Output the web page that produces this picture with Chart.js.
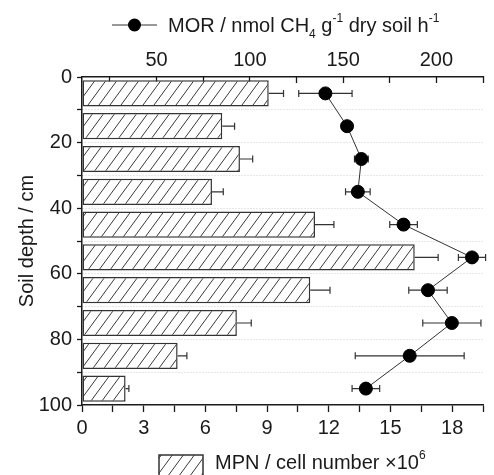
<!DOCTYPE html>
<html>
<head>
<meta charset="utf-8">
<script src="https://cdn.jsdelivr.net/npm/chart.js@4.4.1/dist/chart.umd.min.js"></script>
<style>
  html, body { margin: 0; padding: 0; background: #fff; }
</style>
</head>
<body>
<canvas id="depthChart" width="494" height="475"></canvas>
<script>
// depth of each layer midpoint (cm)
const depths = [5, 15, 25, 35, 45, 55, 65, 75, 85, 95];
// MPN, cell number x10^6 (bars, bottom axis)
const mpn = [9.08, 6.82, 7.68, 6.32, 11.33, 16.18, 11.10, 7.53, 4.65, 2.12];
const mpnErr = [0.72, 0.60, 0.62, 0.55, 0.92, 1.14, 0.96, 0.70, 0.45, 0.16];
// MOR, nmol CH4 g-1 dry soil h-1 (points, top axis)
const mor = [140.5, 152.1, 159.8, 157.9, 182.4, 219.1, 195.5, 208.3, 185.7, 162.2];
const morErr = [14.3, 1.5, 3.7, 6.6, 7.4, 7.3, 10.3, 15.6, 29.2, 7.4];

const FONT = '"Liberation Sans", Arial, sans-serif';
const INK = '#1a1a1a';

// diagonal hatch used for the bars and the legend box
function makeHatch() {
    const w = 11, h = 15;
    const c = document.createElement('canvas');
    c.width = w; c.height = h;
    const g = c.getContext('2d');
    g.fillStyle = '#fff';
    g.fillRect(0, 0, w, h);
    g.strokeStyle = '#3a3a3a';
    g.lineWidth = 1;
    [[0, h, w, 0], [-w, h, 0, 0], [w, h, 2 * w, 0]].forEach(function (s) {
        g.beginPath();
        g.moveTo(s[0], s[1]);
        g.lineTo(s[2], s[3]);
        g.stroke();
    });
    return g.createPattern(c, 'repeat');
}
const hatch = makeHatch();

function drawRuns(ctx, runs, x, baseline, size) {
    ctx.fillStyle = INK;
    ctx.textAlign = 'left';
    ctx.textBaseline = 'alphabetic';
    runs.forEach(function (r) {
        const txt = r[0], mode = r[1];
        const fs = mode ? Math.round(size * 0.62) : size;
        ctx.font = fs + 'px ' + FONT;
        const dy = mode === 'sub' ? size * 0.32 : (mode === 'sup' ? -size * 0.48 : 0);
        ctx.fillText(txt, x, baseline + dy);
        x += ctx.measureText(txt).width;
    });
}

// error bars: bars only to the right, points both sides
const errorBars = {
    id: 'errorBars',
    afterDatasetDraw(chart, args) {
        if (args.index !== 0) return;
        const ctx = chart.ctx;
        const sx = chart.scales.x, st = chart.scales.xTop, sy = chart.scales.y;
        const cap = 3.5;
        ctx.save();
        ctx.strokeStyle = '#333';
        ctx.lineWidth = 1.2;
        depths.forEach(function (d, i) {
            const y = sy.getPixelForValue(d);
            // MPN
            const x0 = sx.getPixelForValue(mpn[i]);
            const x1 = sx.getPixelForValue(mpn[i] + mpnErr[i]);
            ctx.beginPath();
            ctx.moveTo(x0, y); ctx.lineTo(x1, y);
            ctx.moveTo(x1, y - cap); ctx.lineTo(x1, y + cap);
            ctx.stroke();
            // MOR
            const a = st.getPixelForValue(mor[i] - morErr[i]);
            const b = st.getPixelForValue(mor[i] + morErr[i]);
            ctx.beginPath();
            ctx.moveTo(a, y); ctx.lineTo(b, y);
            ctx.moveTo(a, y - cap); ctx.lineTo(a, y + cap);
            ctx.moveTo(b, y - cap); ctx.lineTo(b, y + cap);
            ctx.stroke();
        });
        ctx.restore();
    }
};

// the two legends (top: MOR, bottom: MPN) with sub/superscripts
const legends = {
    id: 'legends',
    afterDraw(chart) {
        const ctx = chart.ctx;
        ctx.save();
        // top
        ctx.strokeStyle = '#333';
        ctx.lineWidth = 1;
        ctx.beginPath();
        ctx.moveTo(112, 25); ctx.lineTo(157, 25);
        ctx.stroke();
        ctx.fillStyle = '#000';
        ctx.beginPath();
        ctx.arc(134.5, 25, 6.5, 0, Math.PI * 2);
        ctx.fill();
        drawRuns(ctx, [['MOR / nmol CH'], ['4', 'sub'], [' g'], ['-1', 'sup'], [' dry soil h'], ['-1', 'sup']], 168, 32, 20);
        // bottom
        ctx.fillStyle = hatch;
        ctx.fillRect(159, 455, 44, 24);
        ctx.strokeStyle = '#333';
        ctx.lineWidth = 1.5;
        ctx.strokeRect(159, 455, 44, 24);
        drawRuns(ctx, [['MPN / cell number \u00d710'], ['6', 'sup']], 215, 469, 20);
        ctx.restore();
    }
};

Chart.defaults.font.family = FONT;
Chart.defaults.font.size = 20;
Chart.defaults.color = INK;

new Chart(document.getElementById('depthChart').getContext('2d'), {
    type: 'bar',
    data: {
        datasets: [{
            label: 'MPN',
            data: depths.map((d, i) => ({ x: mpn[i], y: d })),
            xAxisID: 'x',
            yAxisID: 'y',
            backgroundColor: hatch,
            borderColor: '#333',
            borderWidth: 1.5,
            borderSkipped: false,
            barPercentage: 0.8,
            categoryPercentage: 1,
            order: 2
        }, {
            type: 'line',
            label: 'MOR',
            data: depths.map((d, i) => ({ x: mor[i], y: d })),
            xAxisID: 'xTop',
            yAxisID: 'y',
            borderColor: '#333',
            borderWidth: 1,
            backgroundColor: '#000',
            pointBackgroundColor: '#000',
            pointBorderColor: '#000',
            pointRadius: 6.5,
            pointHoverRadius: 6.5,
            tension: 0,
            order: 1
        }]
    },
    options: {
        indexAxis: 'y',
        responsive: false,
        animation: false,
        layout: { padding: { top: 38, bottom: 32, left: 0, right: 0 } },
        plugins: {
            legend: { display: false },
            tooltip: { enabled: false }
        },
        scales: {
            x: {
                type: 'linear',
                position: 'bottom',
                min: 0,
                max: 19.5,
                ticks: {
                    stepSize: 1.5,
                    padding: 4,
                    maxRotation: 0,
                    autoSkip: false,
                    callback: v => (Math.abs(v % 3) < 1e-6 ? v : '')
                },
                grid: { drawOnChartArea: false, tickLength: 7, tickColor: INK, tickWidth: 1.3 },
                border: { color: INK, width: 1.5 },
                afterFit: s => { s.height = 38; }
            },
            xTop: {
                type: 'linear',
                position: 'top',
                min: 10,
                max: 225,
                ticks: {
                    stepSize: 25,
                    includeBounds: false,
                    padding: 11,
                    maxRotation: 0,
                    autoSkip: false,
                    callback: v => (v % 50 === 0 ? v : '')
                },
                grid: { drawOnChartArea: false, tickLength: -6, tickColor: INK, tickWidth: 1.3 },
                border: { color: INK, width: 1.5 },
                afterFit: s => { s.height = 39; }
            },
            y: {
                type: 'linear',
                position: 'left',
                reverse: true,
                offset: false,
                min: 0,
                max: 100,
                ticks: {
                    stepSize: 10,
                    padding: 5,
                    autoSkip: false,
                    callback: v => (v % 20 === 0 ? v : '')
                },
                grid: {
                    offset: false,
                    color: c => (c.tick && (c.tick.value === 0 || c.tick.value === 100) ? 'rgba(0,0,0,0)' : '#cfcfcf'),
                    lineWidth: 1,
                    tickLength: 5,
                    tickColor: INK,
                    tickWidth: 1.3
                },
                border: { color: INK, width: 1.5, dash: [1, 2] },
                title: {
                    display: true,
                    text: 'Soil depth / cm',
                    padding: { top: 15, bottom: 0 },
                    font: { size: 20 }
                },
                afterFit: s => { s.width = 82; }
            }
        }
    },
    plugins: [errorBars, legends]
});
</script>
</body>
</html>
